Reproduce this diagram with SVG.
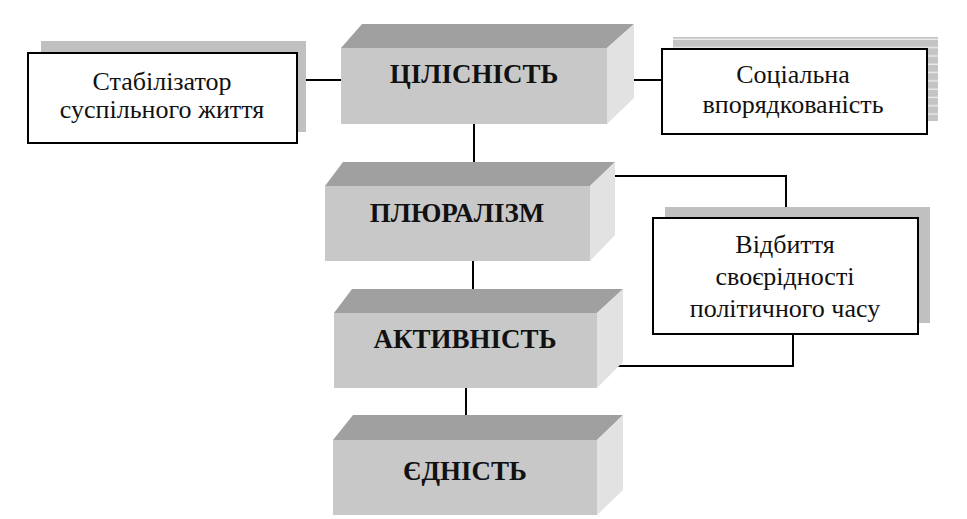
<svg xmlns="http://www.w3.org/2000/svg" width="967" height="519" viewBox="0 0 967 519" font-family="Liberation Serif, serif">
<defs>
<style>
.front{fill:#c8c8c8;}
.top{fill:#a0a0a0;}
.side{fill:#e2e2e2;}
.box{fill:#fff;stroke:#000;stroke-width:2;}
.shadow{fill:#c0c0c0;}
.conn{fill:none;stroke:#000;stroke-width:2;}
text{font-family:'Liberation Serif',serif;fill:#111;}
</style>
<pattern id="stripes" patternUnits="userSpaceOnUse" x="0" y="40" width="10" height="8.3">
<rect width="10" height="8.3" fill="#c4c4c4"/>
<rect y="7" width="10" height="1.3" fill="#ececec"/>
</pattern>
</defs>
<rect width="967" height="519" fill="#fff"/>

<g id="connectors">
<line class="conn" x1="300" y1="80" x2="341" y2="80"/>
<line class="conn" x1="613" y1="80" x2="662" y2="80"/>
<line class="conn" x1="474" y1="124" x2="474" y2="163"/>
<line class="conn" x1="473" y1="261" x2="473" y2="293"/>
<line class="conn" x1="466" y1="388" x2="466" y2="432"/>
<polyline class="conn" points="614,176 786,176 786,208"/>
<polyline class="conn" points="614,366 793,366 793,334"/>
</g>

<g id="node-stabilizator">
<rect class="shadow" x="41" y="41" width="265" height="91"/>
<rect class="box" x="28" y="53" width="269" height="90"/>
<text x="162" y="90" text-anchor="middle" font-family="Liberation Serif, serif" font-size="26">Стабілізатор</text>
<text x="162" y="118" text-anchor="middle" font-family="Liberation Serif, serif" font-size="26">суспільного життя</text>
</g>

<g id="node-sotsialna">
<rect x="673" y="37" width="265" height="84" fill="url(#stripes)"/>
<rect class="box" x="662" y="49" width="265" height="85"/>
<text x="793" y="83" text-anchor="middle" font-family="Liberation Serif, serif" font-size="26">Соціальна</text>
<text x="793" y="113" text-anchor="middle" font-family="Liberation Serif, serif" font-size="26">впорядкованість</text>
</g>

<g id="node-vidbyttia">
<rect class="shadow" x="665" y="207" width="265" height="116"/>
<rect class="box" x="653" y="218" width="265" height="116"/>
<text x="785" y="253" text-anchor="middle" font-family="Liberation Serif, serif" font-size="26">Відбиття</text>
<text x="785" y="285" text-anchor="middle" font-family="Liberation Serif, serif" font-size="26">своєрідності</text>
<text x="785" y="317" text-anchor="middle" font-family="Liberation Serif, serif" font-size="26">політичного часу</text>
</g>

<g id="node-tsilisnist">
<polygon class="top" points="341,48 362,24 634,24 607,48"/>
<polygon class="side" points="607,48 634,24 634,98 607,124"/>
<rect class="front" x="341" y="48" width="266" height="76"/>
<text x="474" y="83" text-anchor="middle" font-family="Liberation Serif, serif" font-size="27" font-weight="bold">ЦІЛІСНІСТЬ</text>
</g>

<g id="node-pliuralizm">
<polygon class="top" points="325,186 343,162 615,162 590,186"/>
<polygon class="side" points="590,186 615,162 615,235 590,261"/>
<rect class="front" x="325" y="186" width="265" height="75"/>
<text x="457" y="222" text-anchor="middle" font-family="Liberation Serif, serif" font-size="27" font-weight="bold">ПЛЮРАЛІЗМ</text>
</g>

<g id="node-aktyvnist">
<polygon class="top" points="334,313 352,289 623,289 597,313"/>
<polygon class="side" points="597,313 623,289 623,362 597,388"/>
<rect class="front" x="334" y="313" width="263" height="75"/>
<text x="465" y="348" text-anchor="middle" font-family="Liberation Serif, serif" font-size="27" font-weight="bold">АКТИВНІСТЬ</text>
</g>

<g id="node-iednist">
<polygon class="top" points="333,440 353,415 623,415 597,440"/>
<polygon class="side" points="597,440 623,415 623,490 597,515"/>
<rect class="front" x="333" y="440" width="264" height="75"/>
<text x="465" y="480" text-anchor="middle" font-family="Liberation Serif, serif" font-size="27" font-weight="bold">ЄДНІСТЬ</text>
</g>
</svg>
